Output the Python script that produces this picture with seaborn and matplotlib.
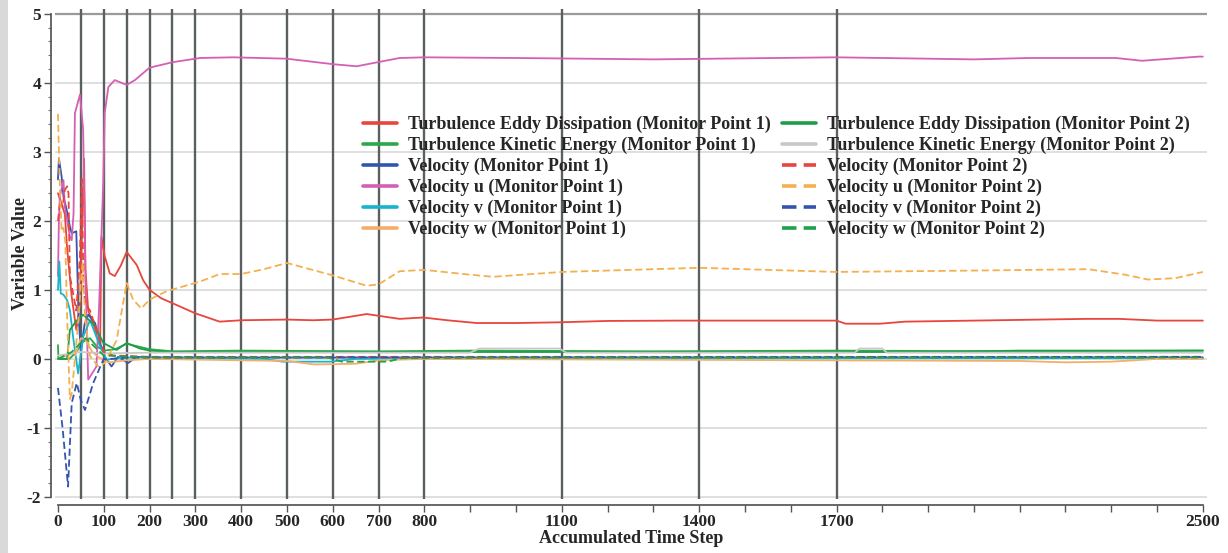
import numpy as np
import pandas as pd
import matplotlib
matplotlib.use("Agg")
import matplotlib.pyplot as plt
import seaborn as sns
from matplotlib.ticker import FixedLocator, FixedFormatter, MultipleLocator
from matplotlib.patches import Rectangle

# ---------------- data ----------------
t_ted1 = [0, 5, 10, 15, 20, 30, 40, 48, 53, 57, 60, 66, 75, 85, 92, 95, 102, 113, 124, 137, 150, 172, 186,
          200, 225, 266, 300, 353, 400, 500, 557, 600, 674, 746, 797, 850, 914, 1000, 1095, 1200, 1357,
          1500, 1700, 1720, 1795, 1850, 2000, 2245, 2317, 2400, 2500]
ted1 = [2.4, 2.3, 2.2, 2.1, 1.6, 0.9, 0.42, 0.8, 2.0, 2.9, 1.3, 0.7, 0.55, 0.35, 0.2, 1.77, 1.49, 1.24, 1.2,
        1.35, 1.55, 1.36, 1.14, 1.0, 0.88, 0.76, 0.66, 0.54, 0.56, 0.57, 0.56, 0.57, 0.65, 0.58, 0.6, 0.56,
        0.52, 0.52, 0.53, 0.55, 0.555, 0.555, 0.555, 0.51, 0.51, 0.54, 0.555, 0.58, 0.58, 0.555, 0.555]

t_tke1 = [0, 1, 25, 40, 55, 70, 85, 100, 125, 150, 175, 200, 250, 400, 700, 900, 1300, 1700, 2100, 2500]
tke1 = [0.2, 0.0, 0.0, 0.1, 0.25, 0.3, 0.18, 0.12, 0.14, 0.22, 0.18, 0.14, 0.11, 0.12, 0.11, 0.12, 0.11,
        0.12, 0.11, 0.12]

t_vel1 = [0, 2, 8, 12, 19, 26, 30, 40, 45, 50, 58, 66, 81, 92, 102, 117, 131, 153, 172, 200, 400, 800,
          1500, 2500]
vel1 = [2.6, 2.91, 2.64, 2.35, 2.16, 1.92, 1.82, 1.85, 0.6, 0.1, 0.5, 0.64, 0.52, 0.23, 0.03, -0.11, 0.03,
        -0.06, 0.03, 0.02, 0.02, 0.02, 0.02, 0.02]

t_u1 = [0, 2, 4, 12, 15, 26, 30, 34, 37, 48, 55, 60, 66, 84, 90, 95, 99, 102, 110, 124, 150, 168, 200,
        251, 310, 382, 499, 601, 652, 699, 746, 800, 1000, 1300, 1700, 2000, 2120, 2310, 2367, 2491, 2500]
u1 = [1.2, 2.0, 2.35, 2.59, 2.2, 1.77, 1.72, 2.11, 3.56, 3.83, 3.32, 1.2, -0.3, -0.11, 0.8, 1.8, 2.59,
      3.56, 3.94, 4.04, 3.97, 4.04, 4.22, 4.3, 4.36, 4.37, 4.35, 4.27, 4.24, 4.3, 4.36, 4.37, 4.36, 4.34,
      4.37, 4.34, 4.36, 4.36, 4.32, 4.38, 4.38]

t_v1 = [0, 3, 6, 12, 20, 26, 33, 44, 55, 70, 92, 106, 150, 300, 450, 490, 595, 650, 1000, 2500]
v1 = [1.0, 1.41, 0.95, 0.93, 0.85, 0.71, 0.32, -0.21, 0.32, 0.56, 0.18, -0.01, 0.02, 0.01, 0.0, -0.04,
      -0.04, 0.0, 0.01, 0.01]

t_w1 = [0, 20, 40, 50, 60, 75, 90, 110, 150, 200, 500, 560, 650, 700, 800, 2100, 2200, 2300, 2400, 2500]
w1 = [0.0, 0.05, 0.1, 0.3, 0.28, 0.1, 0.02, -0.05, -0.02, 0.0, -0.03, -0.08, -0.07, -0.02, 0.0, -0.03,
      -0.05, -0.04, 0.0, 0.0]

t_ted2 = [0, 20, 26, 40, 55, 70, 80, 99, 128, 150, 179, 200, 250, 600, 900, 1300, 1600, 1900, 2100, 2500]
ted2 = [0.0, 0.0, 0.42, 0.55, 0.64, 0.55, 0.49, 0.23, 0.13, 0.23, 0.15, 0.12, 0.1, 0.1, 0.1, 0.1, 0.1,
        0.1, 0.12, 0.12]

t_tke2 = [0, 50, 100, 200, 900, 920, 1095, 1110, 1740, 1750, 1800, 1810, 2500]
tke2 = [0.05, 0.1, 0.08, 0.09, 0.09, 0.15, 0.15, 0.09, 0.09, 0.15, 0.15, 0.09, 0.09]

t_vel2 = [0, 5, 10, 15, 20, 23, 26, 33, 40, 48, 52, 56, 60, 70, 85, 100, 120, 200, 2500]
vel2 = [2.0, 2.3, 2.2, 2.45, 2.5, 2.4, 1.2, 0.95, 0.7, 1.5, 2.6, 1.0, 0.8, 0.7, 0.4, 0.1, 0.05, 0.03, 0.03]

t_u2 = [0, 2, 5, 8, 12, 16, 20, 26, 30, 37, 45, 51, 54, 59, 70, 88, 102, 128, 150, 164, 182, 200, 237,
        273, 310, 353, 400, 450, 500, 600, 674, 700, 746, 800, 900, 950, 1100, 1400, 1700, 2000, 2250,
        2330, 2380, 2440, 2500]
u2 = [3.55, 3.0, 2.3, 1.85, 1.9, 1.7, 0.6, -0.58, -0.5, 0.0, 0.6, 1.2, 1.4, 0.6, 0.04, -0.11, -0.06, 0.27,
      1.1, 0.86, 0.73, 0.86, 0.98, 1.05, 1.12, 1.23, 1.23, 1.3, 1.39, 1.21, 1.06, 1.08, 1.27, 1.29, 1.22,
      1.19, 1.26, 1.32, 1.26, 1.28, 1.3, 1.22, 1.15, 1.17, 1.26]

t_v2 = [0, 10, 22, 30, 41, 50, 59, 77, 99, 150, 2500]
v2 = [-0.42, -1.0, -1.85, -0.64, -0.35, -0.6, -0.74, -0.35, -0.01, 0.02, 0.03]

t_w2 = [0, 30, 60, 100, 200, 590, 620, 720, 750, 1000, 2500]
w2 = [0.0, 0.1, 0.3, 0.05, 0.02, 0.02, -0.04, -0.04, 0.01, 0.02, 0.02]

labels = [
    "Turbulence Eddy Dissipation (Monitor Point 1)",
    "Turbulence Kinetic Energy (Monitor Point 1)",
    "Velocity (Monitor Point 1)",
    "Velocity u (Monitor Point 1)",
    "Velocity v (Monitor Point 1)",
    "Velocity w (Monitor Point 1)",
    "Turbulence Eddy Dissipation (Monitor Point 2)",
    "Turbulence Kinetic Energy (Monitor Point 2)",
    "Velocity (Monitor Point 2)",
    "Velocity u (Monitor Point 2)",
    "Velocity v (Monitor Point 2)",
    "Velocity w (Monitor Point 2)",
]
series_t = [t_ted1, t_tke1, t_vel1, t_u1, t_v1, t_w1, t_ted2, t_tke2, t_vel2, t_u2, t_v2, t_w2]
series_v = [ted1, tke1, vel1, u1, v1, w1, ted2, tke2, vel2, u2, v2, w2]
colors = ["#e8453c", "#2aa84a", "#3355b0", "#d55fb5", "#18b4cc", "#f7ad6a",
          "#1c9e48", "#c8c8c8", "#e8453c", "#f5b04e", "#3355b0", "#1ea34a"]
dashed = [False] * 8 + [True] * 4

vlines = [50, 100, 150, 200, 250, 300, 400, 500, 600, 700, 800, 1100, 1400, 1700]
xlabel_vals = [0, 100, 200, 300, 400, 500, 600, 700, 800, 1100, 1400, 1700, 2500]

# ---------------- style ----------------
sns.set_theme(style="white")
plt.rcParams['font.family'] = ['Liberation Serif', 'DejaVu Serif']
plt.rcParams['font.weight'] = 'bold'
plt.rcParams['axes.unicode_minus'] = False

fig = plt.figure(figsize=(12.28, 5.53), dpi=100)
fig.patch.set_facecolor("white")
fig.patches.append(Rectangle((0, 0), 8 / 1228, 1, transform=fig.transFigure,
                             facecolor="#d9d9d9", edgecolor="none", zorder=0))

W, H = 1228, 553
left, right = 55, 1207
top, bottom = 9, 499
ax = fig.add_axes([left / W, 1 - bottom / H, (right - left) / W, (bottom - top) / H])

for x in vlines:
    ax.axvline(x, color="#5a5f60", lw=1.7, zorder=1)
for y in range(-2, 6):
    ax.axhline(y, color="#9a9a9a" if y == 5 else "#d6d6d6", lw=1.6 if y == 5 else 1.1, zorder=0.5)

for lab, tt, vv, c, d in zip(labels, series_t, series_v, colors, dashed):
    df = pd.DataFrame({"step": tt, "value": vv})
    sns.lineplot(data=df, x="step", y="value", ax=ax, color=c, lw=1.3, label=lab,
                 linestyle=(0, (4, 2)) if d else "-", zorder=2)

ax.set_xlim(-6.5, 2509)
ax.set_ylim(-2.03, 5.07)

# spines
for s in ["top", "right"]:
    ax.spines[s].set_visible(False)
ax.spines["left"].set_position(("outward", 3))
ax.spines["bottom"].set_position(("outward", 4))
ax.spines["left"].set_color("#555555")
ax.spines["bottom"].set_color("#555555")
ax.spines["left"].set_bounds(-2, 5)
ax.spines["bottom"].set_bounds(0, 2500)

ax.xaxis.set_major_locator(FixedLocator(list(range(0, 2501, 100))))
ax.xaxis.set_major_formatter(FixedFormatter(
    [str(v) if v in xlabel_vals else "" for v in range(0, 2501, 100)]))
ax.yaxis.set_major_locator(MultipleLocator(1))
ax.yaxis.set_minor_locator(MultipleLocator(0.2))
ax.tick_params(axis="both", which="major", direction="out", length=5, width=1, color="#555555",
               labelsize=12.5, pad=2, bottom=True, left=True)
ax.tick_params(axis="y", which="minor", direction="out", length=2.5, width=0.8, color="#777777", left=True)
for lbl in ax.get_xticklabels() + ax.get_yticklabels():
    lbl.set_fontweight("bold")

ax.set_xlabel("Accumulated Time Step", fontsize=13, fontweight="bold", labelpad=0)
ax.set_ylabel("Variable Value", fontsize=13, fontweight="bold")
ax.yaxis.set_label_coords((29 - left) / (right - left), 0.5)

handles, labs = ax.get_legend_handles_labels()
if ax.get_legend() is not None:
    ax.get_legend().remove()
leg = ax.legend(handles, labs, ncol=2, loc="upper left",
                bbox_to_anchor=(363 / W, 1 - 116 / H), bbox_transform=fig.transFigure,
                frameon=False, handlelength=1.9, handletextpad=0.6,
                columnspacing=0.6, labelspacing=0.2, borderaxespad=0, borderpad=0,
                prop={"weight": "bold", "size": 13})
for ln in leg.get_lines():
    ln.set_linewidth(2.6)

fig.savefig("out.png", dpi=100)
